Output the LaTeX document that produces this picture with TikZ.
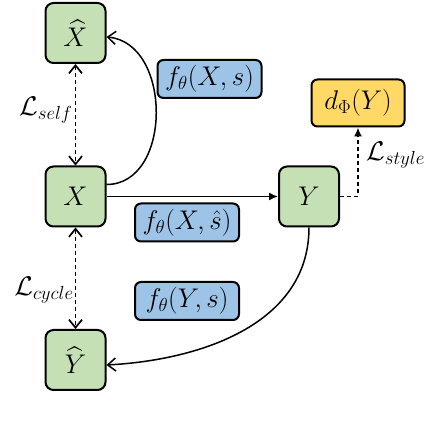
\documentclass[tikz,border=0pt]{standalone}
\usepackage{fix-cm}
\usepackage{amsmath, amssymb}
\usepackage{tikz}
\usetikzlibrary{arrows.meta}

\definecolor{boxgreen}{HTML}{C5E0B4}
\definecolor{boxblue}{HTML}{9DC3E6}
\definecolor{boxyellow}{HTML}{FFD966}

\begin{document}
\begin{tikzpicture}[x=1pt, y=1pt,
	font=\fontsize{27}{32}\selectfont,
	imgbox/.style={draw=black, line width=2pt, rounded corners=8pt, fill=boxgreen, minimum width=60pt, minimum height=60pt, inner sep=0pt},
	netbox/.style={draw=black, line width=2pt, rounded corners=6pt, fill=boxblue, minimum width=104pt, minimum height=38pt, inner sep=0pt},
	lossline/.style={line width=1.7pt, dash pattern=on 4pt off 3pt},
	openhead/.style={line width=1.5pt, -{Straight Barb[length=8pt, width=13pt]}}]
	\useasboundingbox (0,0) rectangle (448,426);
	% The image boxes
	\node[imgbox] (Xhat) at (75.5,393) {$\widehat{X}$};
	\node[imgbox] (X) at (75.5,229.5) {$X$};
	\node[imgbox] (Yhat) at (75.5,66) {$\widehat{Y}$};
	\node[imgbox] (Y) at (309,229.5) {$Y$};
	\node[draw=black, line width=2pt, rounded corners=6pt, fill=boxyellow, minimum width=93pt, minimum height=47pt] (disc) at (358,323) {$d_{\Phi}(Y)$};
	% The generator boxes
	\node[netbox] (fself) at (209.5,347) {$f_{\theta}(X,s)$};
	\node[netbox] (fstyle) at (187,203.5) {$f_{\theta}(X,\hat{s})$};
	\node[netbox] (fcycle) at (187,125) {$f_{\theta}(Y,s)$};
	% Arrows
	\draw[line width=1.5pt, -{Latex[length=9pt, width=8pt]}] (X.east) -- (Y.west);
	\draw[openhead] ([yshift=12pt]X.east) to[out=0, in=-5, looseness=1.15] ([yshift=-4pt]Xhat.east);
	\draw[openhead] (Y.south) to[out=-90, in=3] ([yshift=-5pt]Yhat.east);
	% Losses
	\draw[lossline, {Straight Barb[length=8pt, width=13pt]}-{Straight Barb[length=8pt, width=13pt]}] (Xhat.south) -- (X.north) node[pos=0.45, left, inner sep=2pt] {$\mathcal{L}_{self}$};
	\draw[lossline, {Straight Barb[length=8pt, width=13pt]}-{Straight Barb[length=8pt, width=13pt]}] (X.south) -- (Yhat.north) node[pos=0.62, left, inner sep=1pt] {$\mathcal{L}_{cycle}$};
	\draw[lossline, -{Latex[length=9pt, width=8pt]}] (Y.east) -| (disc.south) node[pos=0.8, right, xshift=4pt] {$\mathcal{L}_{style}$};
\end{tikzpicture}
\end{document}
